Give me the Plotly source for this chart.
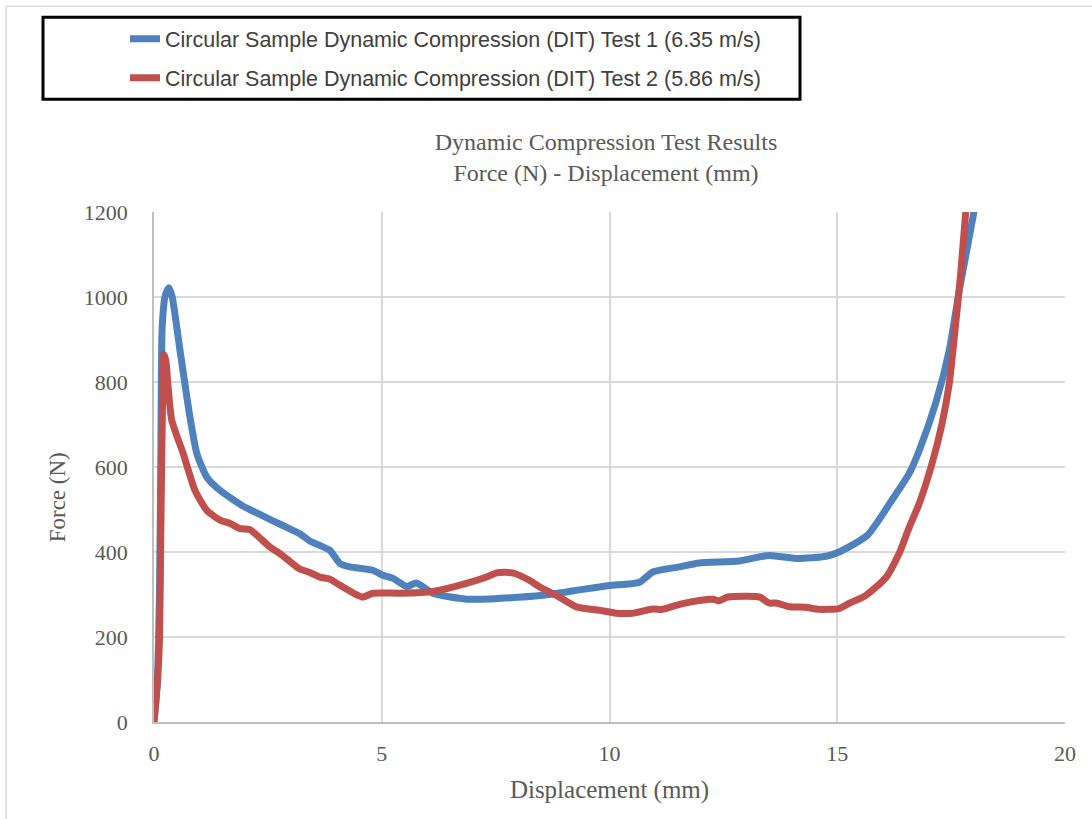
import plotly.graph_objects as go

# ---- data ----
test1_x = [0, 0.07, 0.12, 0.15, 0.18, 0.25, 0.33, 0.40, 0.57, 0.79, 0.94, 1.16, 1.45, 1.95, 2.1, 2.6,
           3.05, 3.2, 3.42, 3.86, 4.08, 4.3, 4.8, 5.03, 5.25, 5.55, 5.76, 6.12, 6.86, 7.6, 8.53,
           9.41, 10.0, 10.66, 10.95, 11.53, 11.97, 12.85, 13.5, 14.1, 14.76, 15.04, 15.66, 16.2,
           16.58, 16.8, 17.16, 17.46, 17.68, 18.0, 18.1]
test1_y = [0, 90, 300, 620, 930, 1005, 1022, 1000, 875, 717, 632, 576, 545, 508, 500, 474,
           451, 443, 426, 404, 373, 365, 357, 345, 338, 319, 327, 303, 289, 291, 298,
           312, 321, 329, 353, 365, 374, 379, 392, 385, 390, 400, 439, 522,
           585, 639, 750, 875, 1016, 1200, 1270]

test2_x = [0, 0.08, 0.12, 0.15, 0.18, 0.22, 0.26, 0.31, 0.39, 0.64, 0.9, 1.16, 1.45, 1.67, 1.89,
           2.1, 2.54, 2.76, 3.2, 3.42, 3.64, 3.86, 4.08, 4.58, 4.8, 5.4, 6.12, 6.86, 7.3, 7.52,
           7.87, 8.25, 8.46, 8.9, 9.27, 9.78, 10.15, 10.5, 10.95, 11.16, 11.54, 11.97, 12.27,
           12.4, 12.6, 13.3, 13.5, 13.66, 13.95, 14.3, 14.6, 15.04, 15.26, 15.63, 16.07, 16.36,
           16.58, 16.8, 17.08, 17.3, 17.46, 17.6, 17.71, 17.82, 17.9]
test2_y = [0, 100, 192, 450, 700, 865, 850, 788, 710, 632, 545, 498, 475, 467, 455,
           453, 412, 397, 360, 352, 341, 336, 322, 294, 303, 303, 307, 326, 341, 351,
           351, 333, 318, 294, 271, 263, 256, 256, 266, 265, 277, 286, 289,
           285, 294, 294, 280, 280, 271, 270, 265, 267, 279, 298, 340, 397,
           458, 514, 608, 702, 797, 937, 1055, 1200, 1300]

names = ["Circular Sample Dynamic Compression (DIT) Test 1 (6.35 m/s)",
         "Circular Sample Dynamic Compression (DIT) Test 2 (5.86 m/s)"]
x_ticks = [0, 5, 10, 15, 20]
y_ticks = [0, 200, 400, 600, 800, 1000, 1200]

BLUE = "#4f81bd"
RED = "#c0504d"
GREY_TXT = "#595959"
SERIF = "Liberation Serif, Times New Roman, serif"

fig = go.Figure()
fig.add_trace(go.Scatter(x=test1_x, y=test1_y, mode="lines", name=names[0], legendgroup="a",
                         line=dict(color=BLUE, width=7, shape="spline", smoothing=0.6)))
fig.add_trace(go.Scatter(x=test2_x, y=test2_y, mode="lines", name=names[1], legendgroup="b",
                         line=dict(color=RED, width=7, shape="spline", smoothing=0.6)))

L, T, W, H = 154, 211.7, 911, 510
def px(x):
    return (x - L) / W
def py(y):
    return (T + H - y) / H

fig.update_layout(
    width=1092, height=819,
    margin=dict(l=154, r=1092 - 154 - 911, t=211.7, b=819 - 211.7 - 510),
    paper_bgcolor="white", plot_bgcolor="white",
    title=dict(text="Dynamic Compression Test Results<br>Force (N) - Displacement (mm)",
               font=dict(family=SERIF, size=24, color=GREY_TXT),
               x=px(606), xref="paper", xanchor="center",
               y=1 - 150 / 819, yref="container", yanchor="top"),
    xaxis=dict(range=[0, 20], tickvals=x_ticks, showgrid=True, gridcolor="#d9d9d9", gridwidth=1.5,
               zeroline=False, showline=True, linecolor="#bfbfbf", linewidth=1.5,
               tickfont=dict(family=SERIF, size=22, color=GREY_TXT), ticks="", ticklabelstandoff=11,
               title=dict(text="Displacement (mm)", font=dict(family=SERIF, size=25, color=GREY_TXT),
                          standoff=15)),
    yaxis=dict(range=[0, 1200], tickvals=y_ticks, showgrid=True, gridcolor="#d9d9d9", gridwidth=1.5,
               zeroline=False, showline=True, linecolor="#bfbfbf", linewidth=1.5,
               tickfont=dict(family=SERIF, size=22, color=GREY_TXT), ticks="", ticklabelstandoff=20),
    legend=dict(x=px(125), y=py(18), xanchor="left", yanchor="top",
                font=dict(family="Liberation Sans, sans-serif", size=21.5, color="#404040"),
                bgcolor="rgba(0,0,0,0)", borderwidth=0, traceorder="grouped", tracegroupgap=8,
                itemwidth=30),
    showlegend=True,
)

# y-axis title (placed as in the reference, slightly below the plot centre)
fig.add_annotation(text="Force (N)", xref="paper", yref="paper", x=px(57), y=py(497),
                   textangle=-90, showarrow=False, xanchor="center", yanchor="middle",
                   font=dict(family=SERIF, size=23, color=GREY_TXT))

# legend frame and chart border
fig.add_shape(type="rect", xref="paper", yref="paper",
              x0=px(43), x1=px(800), y0=py(99), y1=py(17),
              line=dict(color="black", width=3), fillcolor="rgba(0,0,0,0)", layer="below")
fig.add_shape(type="line", xref="paper", yref="paper", x0=px(6), x1=px(1092), y0=py(6), y1=py(6),
              line=dict(color="#d9d9d9", width=1.5))
fig.add_shape(type="line", xref="paper", yref="paper", x0=px(6), x1=px(6), y0=py(6), y1=py(819),
              line=dict(color="#d9d9d9", width=1.5))

fig.write_html("out.html")
